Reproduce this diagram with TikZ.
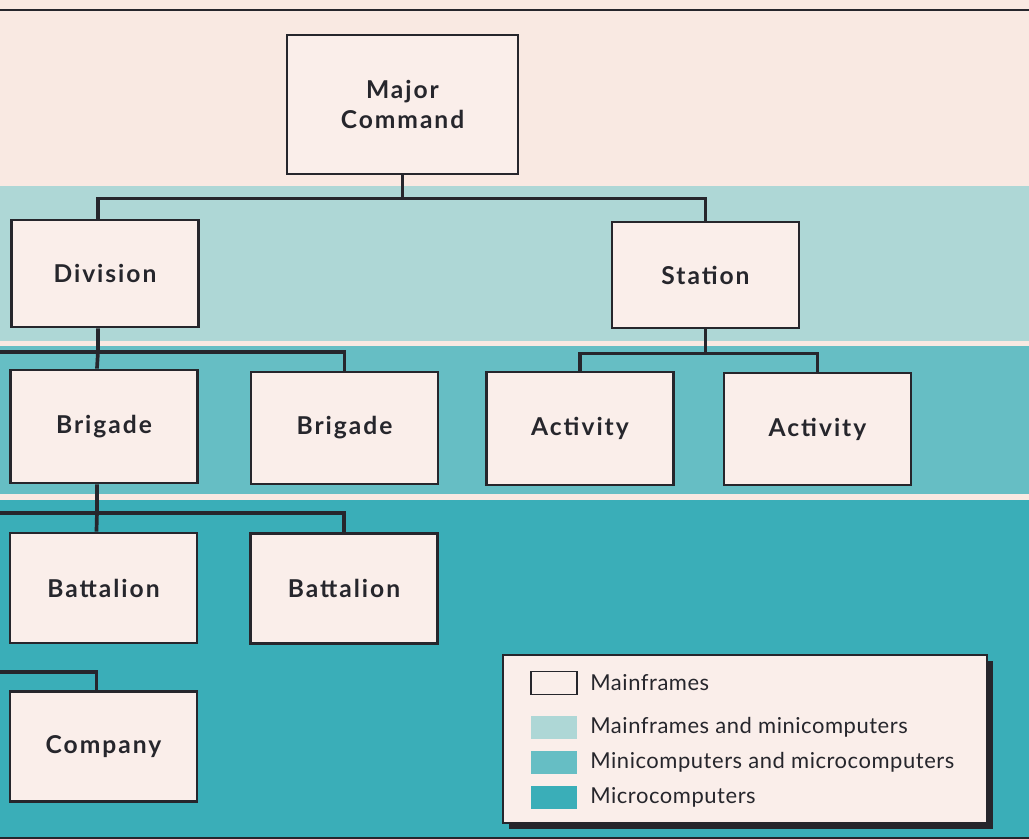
\documentclass[tikz,border=0pt]{standalone}
\usepackage{fontspec}
\setmainfont{Lato}
\usepackage{tikz}
\usetikzlibrary{positioning,shadows}

\definecolor{cream}{RGB}{249,233,226}
\definecolor{boxfill}{RGB}{250,238,234}
\definecolor{bandtwo}{RGB}{174,215,214}
\definecolor{bandthree}{RGB}{102,190,196}
\definecolor{bandfour}{RGB}{58,174,184}
\definecolor{ink}{RGB}{38,38,44}

\begin{document}
\begin{tikzpicture}[
  x=0.02cm, y=-0.02cm,
  unit/.style={draw=ink, line width=1.6pt, fill=boxfill, minimum width=3.74cm, minimum height=2.2cm,
    align=center, font=\fontsize{14}{17.6}\selectfont\bfseries\addfontfeature{LetterSpace=8},
    text=ink, inner sep=0pt},
  link/.style={draw=ink, line width=2.1pt},
  swatch/.style={minimum width=0.92cm, minimum height=0.46cm, inner sep=0pt},
  legtext/.style={anchor=west, font=\fontsize{12.5}{15}\selectfont\addfontfeature{LetterSpace=2.5},
    text=ink, inner sep=0pt}
]
\useasboundingbox (0,0) rectangle (1029,839);

% colour bands
\fill[cream] (0,0) rectangle (1029,186);
\fill[bandtwo] (0,186) rectangle (1029,341);
\fill[cream] (0,341) rectangle (1029,346);
\fill[bandthree] (0,346) rectangle (1029,494);
\fill[cream] (0,494) rectangle (1029,500);
\fill[bandfour] (0,500) rectangle (1029,839);
\draw[ink, line width=1.3pt] (0,10) -- (1029,10);
\draw[ink, line width=1pt] (0,838) -- (1029,838);

\node[unit, minimum width=4.62cm, minimum height=2.78cm] (major) at (402.5,104.5) {Major\\Command};
\node[unit, minimum height=2.14cm] (div) at (105,273.5) {Division};
\node[unit, minimum height=2.12cm] (sta) at (705.5,275) {Station};
\node[unit, minimum height=2.26cm] (brig1) at (104,426.5) {Brigade};
\node[unit, minimum height=2.24cm] (brig2) at (344.5,428) {Brigade};
\node[unit, minimum height=2.26cm] (act1) at (580,428.5) {Activity};
\node[unit, minimum height=2.24cm] (act2) at (817.5,429) {Activity};
\node[unit] (bat1) at (103.5,588) {Battalion};
\node[unit] (bat2) at (344,588.5) {Battalion};
\node[unit] (comp) at (103.5,746.5) {Company};

\coordinate (edge1) at (0,352);
\coordinate (edge2) at (0,513);
\coordinate (edge3) at (0,672);

\draw[link] (major.south) -- ++(0,23) coordinate (j1);
\draw[link] (j1) -| ([xshift=-4]div.north);
\draw[link] (j1) -| (sta.north);
\draw[link] ([xshift=-4]div.south) -- ([xshift=-4]div.south |- edge1) -- ([xshift=-4]brig1.north);
\draw[link] (edge1) -| (brig2.north);
\draw[link] (sta.south) -- ++(0,24) coordinate (j2);
\draw[link] (j2) -| (act1.north);
\draw[link] (j2) -| (act2.north);
\draw[link] ([xshift=-4]brig1.south) -- ([xshift=-4]brig1.south |- edge2) -- ([xshift=-4]bat1.north);
\draw[link] (edge2) -| (bat2.north);
\draw[link] (edge3) -| ([xshift=-4]comp.north);

% legend
\node[draw=ink, line width=1.2pt, fill=boxfill, minimum width=9.68cm, minimum height=3.36cm,
  drop shadow={shadow xshift=0.12cm, shadow yshift=-0.12cm, fill=ink, opacity=1}] (legend) at (745,739) {};
\node[swatch, draw=ink, line width=1.1pt, fill=boxfill] (key1) at (554,683) {};
\node[legtext] (lbl1) at (590,683) {Mainframes};
\foreach \c/\t/\y in {bandtwo/Mainframes and minicomputers/727,
  bandthree/Minicomputers and microcomputers/762, bandfour/Microcomputers/797} {
  \node[swatch, fill=\c] (key\y) at (554,\y) {};
  \node[legtext] (lbl\y) at (590,\y) {\t};
}
\end{tikzpicture}
\end{document}
